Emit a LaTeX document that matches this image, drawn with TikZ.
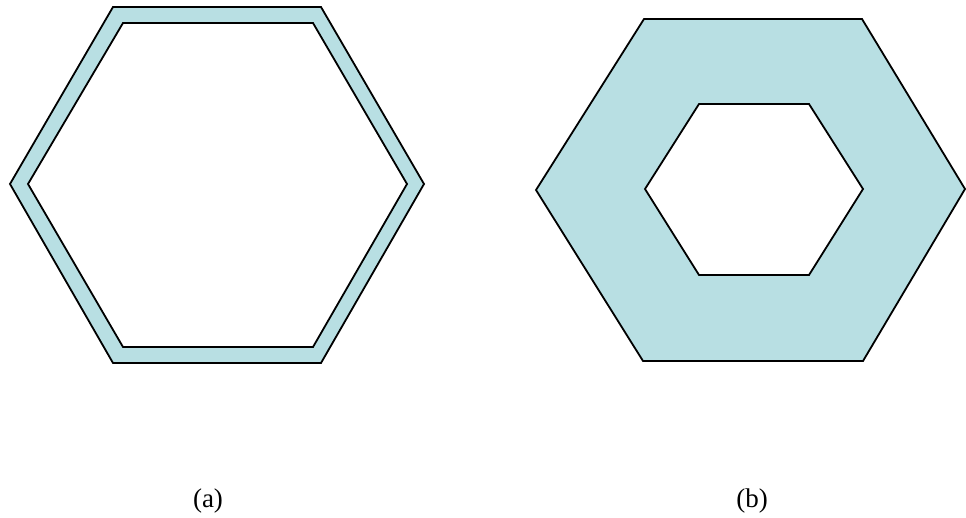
\documentclass[tikz,border=0pt]{standalone}
\usepackage{fontspec}
\setmainfont{Liberation Serif}
\definecolor{hexfill}{HTML}{B8DFE3}
\begin{document}
\begin{tikzpicture}[x=1pt,y=-1pt,
  ring/.style={fill=hexfill,even odd rule,draw=black,line width=1.8pt,line join=miter},
  lbl/.style={font=\fontsize{27}{30}\selectfont,inner sep=0pt}]
\useasboundingbox (0,0) rectangle (966,518);
% (a)
\path[ring] (10,184) -- (113,7) -- (321,7) -- (424,184) -- (321,363) -- (113,363) -- cycle
  (28,184) -- (123,23) -- (313,23) -- (407,184) -- (313,347) -- (123,347) -- cycle;
% (b)
\path[ring] (536,190) -- (644,19) -- (862,19) -- (965,189) -- (863,361) -- (643,361) -- cycle
  (645,189) -- (699,104) -- (809,104) -- (863,189) -- (809,275) -- (699,275) -- cycle;
\node[lbl] (la) at (208,501) {(a)};
\node[lbl] (lb) at (752,501) {(b)};
\end{tikzpicture}
\end{document}
